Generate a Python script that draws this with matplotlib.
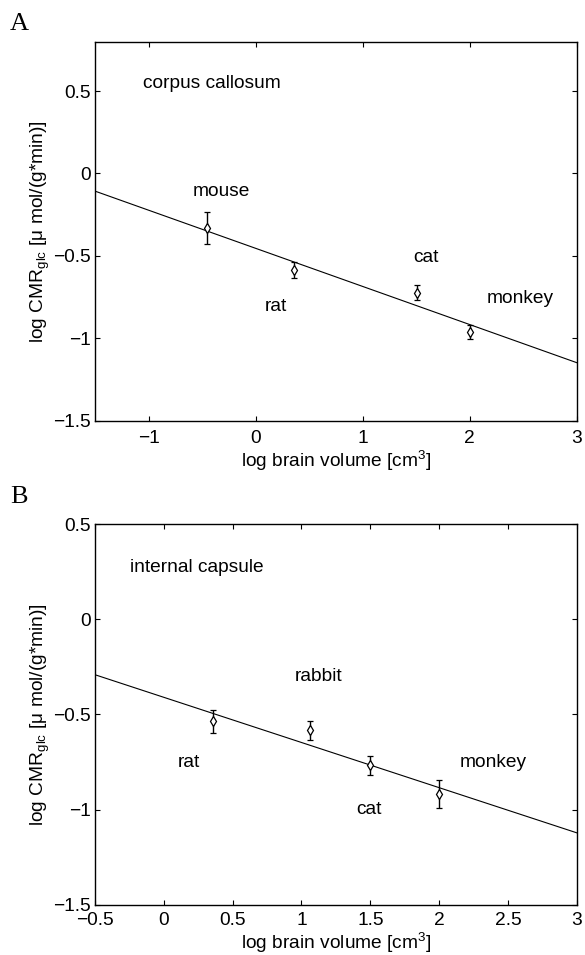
import matplotlib
matplotlib.use("Agg")
from matplotlib import pyplot as plt

plt.rcParams['font.family'] = ['Liberation Sans', 'DejaVu Sans']
plt.rcParams['mathtext.fontset'] = 'custom'
plt.rcParams['mathtext.rm'] = 'Liberation Sans'
plt.rcParams['mathtext.it'] = 'Liberation Sans:italic'

# panel A: corpus callosum
cc_species = ["mouse", "rat", "cat", "monkey"]
cc_x = [-0.45, 0.36, 1.505, 2.005]
cc_y = [-0.33, -0.587, -0.723, -0.962]
cc_err = [0.095, 0.05, 0.045, 0.04]
cc_fit = [-0.454, -0.2313]  # intercept, slope
cc_label_x = [-0.59, 0.087, 1.47, 2.16]
cc_label_y = [-0.109, -0.806, -0.508, -0.759]

# panel B: internal capsule
ic_species = ["rat", "rabbit", "cat", "monkey"]
ic_x = [0.354, 1.06, 1.5, 2.0]
ic_y = [-0.536, -0.582, -0.768, -0.918]
ic_err = [0.06, 0.05, 0.05, 0.075]
ic_fit = [-0.410, -0.2374]
ic_label_x = [0.10, 0.954, 1.40, 2.15]
ic_label_y = [-0.754, -0.298, -1.0, -0.754]

ylab = "log CMR$_{\\mathrm{glc}}$ [μ mol/(g*min)]"
xlab = "log brain volume [cm$^3$]"
FS = 13.8


def draw_panel(ax, x, y, err, fit, names, lx, ly, title, title_xy, xlim, ylim, xticks, yticks,
               xpad, xlabelpad):
    ax.plot(xlim, [fit[0] + fit[1] * v for v in xlim], color='black', linewidth=0.8)
    ax.errorbar(x, y, yerr=err, fmt='d', mfc='white', mec='black', ms=5.5, mew=0.9,
                ecolor='black', elinewidth=1.0, capsize=2, capthick=1.0)
    for name, tx, ty in zip(names, lx, ly):
        ax.text(tx, ty, name, fontsize=FS, ha='left', va='center')
    ax.text(title_xy[0], title_xy[1], title, fontsize=FS, ha='left', va='center')
    ax.set_xlim(xlim)
    ax.set_ylim(ylim)
    ax.set_xticks(xticks)
    ax.set_yticks(yticks)
    ax.set_xticklabels([f"{t:g}".replace("-", "\u2212") for t in xticks])
    ax.set_yticklabels([f"{t:g}".replace("-", "\u2212") for t in yticks])
    ax.tick_params(direction='in', top=True, right=True, length=3.5, labelsize=FS, width=0.8)
    ax.tick_params(axis='x', pad=xpad)
    ax.tick_params(axis='y', pad=3)
    for s in ax.spines.values():
        s.set_linewidth(1.0)
    ax.set_xlabel(xlab, fontsize=FS, labelpad=xlabelpad)
    ax.set_ylabel(ylab, fontsize=FS, labelpad=1)


fig = plt.figure(figsize=(5.85, 9.55), dpi=100)
ax1 = fig.add_axes([0.1624, 0.5595, 0.8234, 0.3969])
ax2 = fig.add_axes([0.1624, 0.0527, 0.8234, 0.3984])

draw_panel(ax1, cc_x, cc_y, cc_err, cc_fit, cc_species, cc_label_x, cc_label_y,
           "corpus callosum", (-1.048, 0.547), [-1.5, 3], [-1.5, 0.8],
           [-1, 0, 1, 2, 3], [-1.5, -1, -0.5, 0, 0.5], 7, 1)
draw_panel(ax2, ic_x, ic_y, ic_err, ic_fit, ic_species, ic_label_x, ic_label_y,
           "internal capsule", (-0.249, 0.275), [-0.5, 3], [-1.5, 0.5],
           [-0.5, 0, 0.5, 1, 1.5, 2, 2.5, 3], [-1.5, -1, -0.5, 0, 0.5], 5, 1.5)

fig.text(10 / 585, 1 - 24 / 955, "A", family='Liberation Serif', fontsize=19, ha='left', va='center')
fig.text(10 / 585, 1 - 497 / 955, "B", family='Liberation Serif', fontsize=19, ha='left', va='center')

fig.savefig("out.png", dpi=100)
